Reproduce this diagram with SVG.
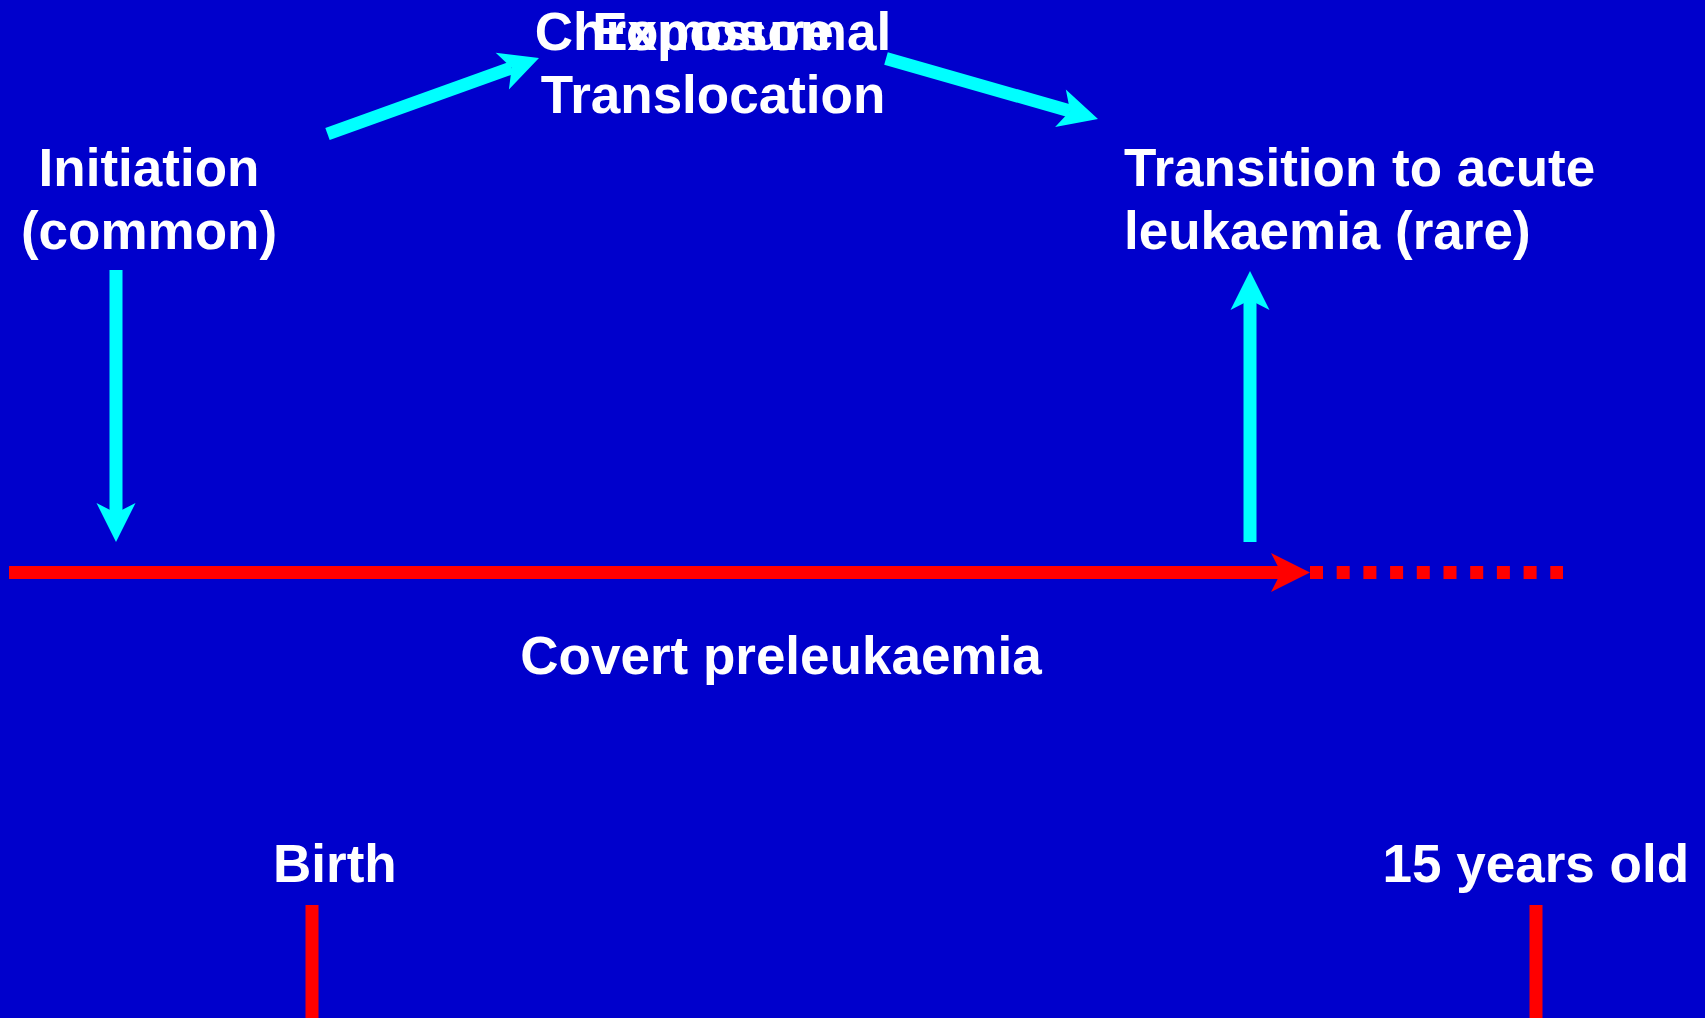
<svg xmlns="http://www.w3.org/2000/svg" width="1705" height="1018" viewBox="0 0 1705 1018">
  <style>
    .lbl { font-family: "Liberation Sans", Arial, sans-serif; font-weight: bold; font-size: 53px; fill: #FFFFFF; }
    .mid { text-anchor: middle; }
    .cyan { stroke: #00FFFF; stroke-width: 13; fill: none; stroke-linecap: butt; }
    .red { stroke: #FF0000; stroke-width: 13; fill: none; stroke-linecap: butt; }
  </style>
  <defs>
    <marker id="headCyan" markerUnits="userSpaceOnUse" viewBox="-10 -20 40 40" markerWidth="40" markerHeight="40" refX="0" refY="0" orient="auto" overflow="visible">
      <path d="M29,0 L-10,-19.5 L0,0 L-10,19.5 Z" fill="#00FFFF"/>
    </marker>
    <marker id="headRed" markerUnits="userSpaceOnUse" viewBox="-10 -20 40 40" markerWidth="40" markerHeight="40" refX="0" refY="0" orient="auto" overflow="visible">
      <path d="M29,0 L-10,-19.5 L0,0 L-10,19.5 Z" fill="#FF0000"/>
    </marker>
  </defs>
  <rect x="0" y="0" width="1705" height="1018" fill="#0000CC"/>

  <g id="connectors">
    <line id="arrow-initiation" class="cyan" x1="116" y1="270" x2="116" y2="513" marker-end="url(#headCyan)"/>
    <line id="arrow-to-translocation" class="cyan" x1="327.5" y1="134" x2="511.7" y2="67.8" marker-end="url(#headCyan)"/>
    <line id="arrow-to-transition" class="cyan" x1="886" y1="58.5" x2="1070.1" y2="111" marker-end="url(#headCyan)"/>
    <line id="arrow-transition-up" class="cyan" x1="1250" y1="542" x2="1250" y2="300" marker-end="url(#headCyan)"/>
    <line id="timeline" class="red" x1="9" y1="572.5" x2="1281" y2="572.5" marker-end="url(#headRed)"/>
    <line id="timeline-dotted" class="red" x1="1310" y1="572.5" x2="1563" y2="572.5" stroke-dasharray="13 13.7"/>
    <line id="tick-birth" class="red" stroke-width="12" x1="312" y1="905" x2="312" y2="1018"/>
    <line id="tick-15" class="red" stroke-width="12" x1="1536" y1="905" x2="1536" y2="1018"/>
  </g>

  <g id="node-chromosomal">
    <text class="lbl mid" x="713" y="50">Chromosomal</text>
    <text class="lbl mid" x="713" y="113">Translocation</text>
  </g>
  <g id="node-exposure">
    <text class="lbl mid" x="713" y="50">Exposure</text>
  </g>
  <g id="node-initiation">
    <text class="lbl mid" x="149" y="186">Initiation</text>
    <text class="lbl mid" x="149" y="249">(common)</text>
  </g>
  <g id="node-transition">
    <text class="lbl" x="1124" y="186">Transition to acute</text>
    <text class="lbl" x="1124" y="249">leukaemia (rare)</text>
  </g>
  <g id="node-covert">
    <text class="lbl mid" x="781" y="674">Covert preleukaemia</text>
  </g>
  <g id="node-birth">
    <text class="lbl" x="273" y="882">Birth</text>
  </g>
  <g id="node-15">
    <text class="lbl" x="1689" y="882" text-anchor="end">15 years old</text>
  </g>
</svg>
